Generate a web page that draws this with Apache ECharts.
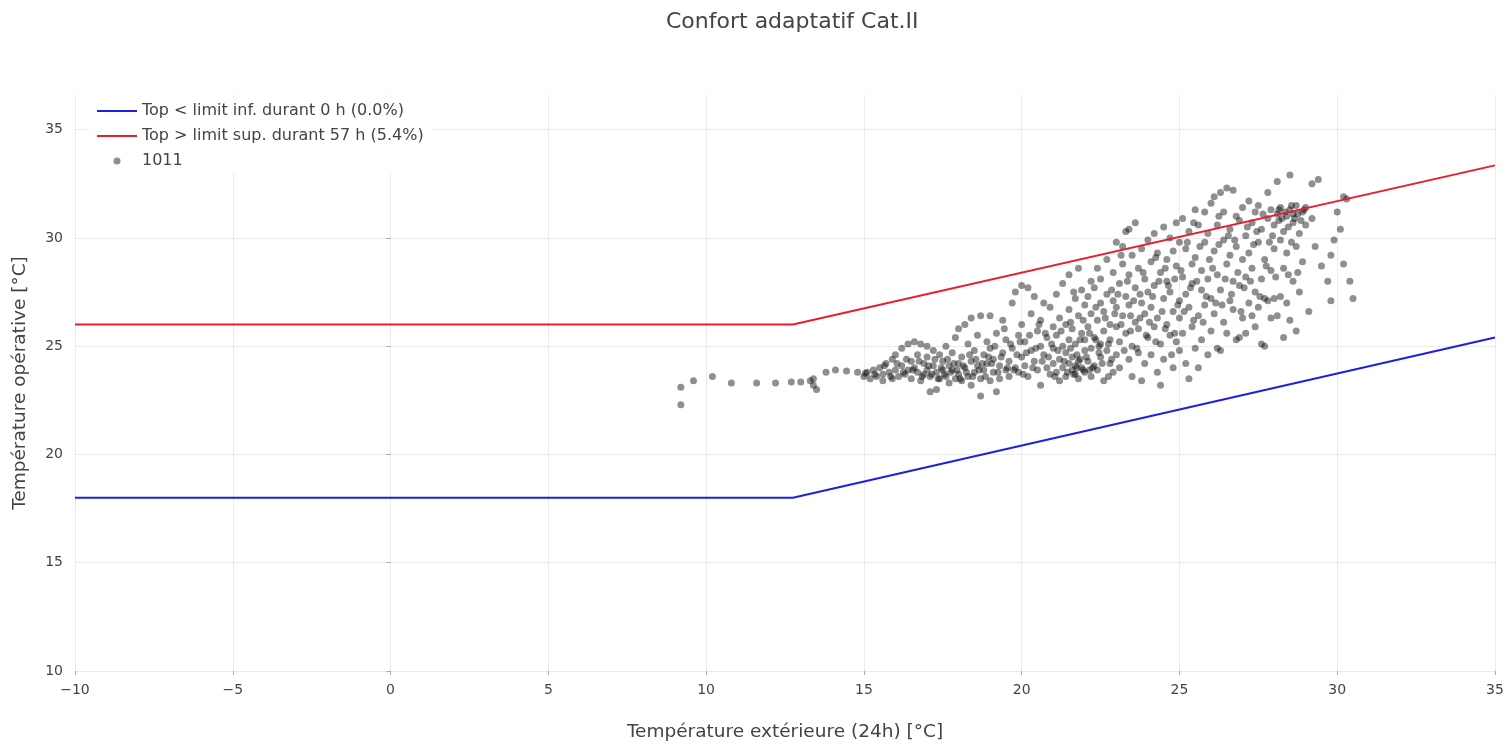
<!DOCTYPE html>
<html>
<head>
<meta charset="utf-8">
<script src="https://cdn.jsdelivr.net/npm/echarts@6/dist/echarts.min.js"></script>
<style>
  html, body { margin: 0; padding: 0; background: #fff; }
  #chart { width: 1508px; height: 747px; }
</style>
</head>
<body>
<div id="chart"></div>
<script>
// limites de confort (Cat.II)
const limInf = [[-10, 18], [12.75, 18], [35, 25.4]];
const limSup = [[-10, 26], [12.75, 26], [35, 33.35]];

const xTicks = [-10, -5, 0, 5, 10, 15, 20, 25, 30, 35];
const yTicks = [10, 15, 20, 25, 30, 35];

// points mesurés : [T ext (24h), T opérative]
const pts1011 = [
  [9.2,23.1],[9.2,22.3],[9.6,23.4],[10.2,23.6],[10.8,23.3],[11.6,23.3],[12.2,23.3],[12.7,23.35],[13.0,23.35],
  [13.3,23.4],[13.4,23.2],[13.5,23.0],[13.4,23.5],[13.8,23.8],[14.1,23.9],[14.45,23.85],[14.8,23.8],[15.05,23.75],
  [15.0,23.6],[15.1,23.8],[15.2,23.5],[15.3,23.9],[15.4,23.6],[15.5,24.0],[15.6,23.7],[15.6,23.4],[15.7,24.2],[15.8,23.8],
  [15.9,23.5],[15.9,24.4],[16.0,23.9],[16.0,24.6],[16.1,23.6],[16.2,24.9],[16.2,24.1],[16.3,23.7],[16.4,25.1],[16.4,23.9],
  [16.5,24.3],[16.5,23.5],[16.6,25.2],[16.6,24.0],[16.7,23.8],[16.7,24.6],[16.8,25.1],[16.8,23.4],[16.9,24.2],[16.9,23.7],
  [17.0,25.0],[17.0,24.5],[17.0,23.9],[17.1,22.9],[17.1,23.6],[17.2,24.8],[17.2,24.1],[17.3,23.0],[17.3,23.8],[17.4,24.6],
  [17.4,23.5],[17.5,24.3],[17.5,23.9],[17.6,25.0],[17.6,23.6],[17.7,24.1],[17.7,23.3],[17.8,24.7],[17.8,23.9],[17.9,25.4],
  [17.9,23.5],[18.0,24.2],[18.0,25.8],[18.0,23.7],
  [18.1,24.5],[18.1,23.4],[18.2,26.0],[18.2,24.0],[18.3,23.6],[18.3,25.1],[18.4,26.3],[18.4,24.3],[18.4,23.2],[18.5,24.8],
  [18.5,23.8],[18.6,25.5],[18.6,24.1],[18.7,22.7],[18.7,23.5],[18.7,26.4],[18.8,24.6],[18.8,23.9],[18.9,25.2],[18.9,24.2],
  [19.0,23.4],[19.0,26.4],[19.0,24.9],[19.1,23.8],[19.1,24.4],[19.2,22.9],[19.2,25.6],[19.3,24.1],[19.3,23.5],[19.4,24.7],
  [19.4,26.2],[19.5,23.9],[19.5,25.3],[19.6,24.3],[19.6,23.6],[19.7,27.0],[19.7,24.9],[19.8,24.0],[19.8,27.5],[19.9,25.5],
  [19.9,23.8],[20.0,27.8],[20.0,24.5],[20.0,26.0],
  [20.1,24.1],[20.1,25.2],[20.2,27.7],[20.2,23.6],[20.3,26.5],[20.3,24.8],[20.4,27.3],[20.4,24.3],[20.5,25.7],[20.5,23.9],
  [20.6,23.2],[20.6,25.0],[20.6,26.2],[20.7,24.6],[20.7,27.0],[20.8,24.0],[20.8,25.4],[20.9,26.8],[20.9,23.7],[21.0,24.9],
  [21.0,25.9],[21.0,24.2],
  [21.1,23.8],[21.1,25.5],[21.1,27.4],[21.2,24.4],[21.2,26.3],[21.2,23.4],[21.3,25.0],[21.3,27.9],[21.3,24.0],[21.4,26.0],
  [21.4,24.7],[21.4,23.6],[21.5,25.3],[21.5,28.3],[21.5,24.2],[21.5,26.7],[21.6,23.9],[21.6,25.8],[21.6,24.5],[21.7,27.2],
  [21.7,23.7],[21.7,24.1],[21.7,25.1],[21.8,26.4],[21.8,24.3],[21.8,23.5],[21.8,28.6],[21.9,25.6],[21.9,24.0],[21.9,27.6],
  [22.0,24.8],[22.0,26.9],[22.0,23.8],[22.0,25.3],
  [22.1,24.3],[22.1,27.3],[22.1,25.9],[22.2,23.6],[22.2,26.5],[22.2,28.0],[22.2,24.9],[22.3,25.4],[22.3,27.7],[22.3,24.1],
  [22.4,26.2],[22.4,28.6],[22.4,23.9],[22.5,25.1],[22.5,27.0],[22.5,24.5],[22.5,28.1],[22.6,26.6],[22.6,23.4],[22.6,25.7],
  [22.7,29.0],[22.7,24.8],[22.7,27.4],[22.8,26.0],[22.8,24.2],[22.8,25.3],[22.9,28.4],[22.9,27.1],[22.9,23.8],[23.0,25.9],
  [23.0,29.8],[23.0,24.6],[23.0,26.8],
  [23.1,27.9],[23.1,25.2],[23.1,24.0],[23.2,28.8],[23.2,26.4],[23.2,29.6],[23.3,30.3],[23.3,25.6],[23.3,27.3],[23.4,24.4],
  [23.4,28.3],[23.4,26.9],[23.4,30.4],[23.5,25.0],[23.5,29.2],[23.5,23.6],[23.6,27.7],[23.6,30.7],[23.6,26.1],[23.7,28.6],
  [23.7,24.7],[23.7,25.8],[23.8,29.5],[23.8,27.0],[23.8,23.4],[23.9,26.5],[23.9,28.1],[23.9,24.2],[24.0,29.9],[24.0,25.4],
  [24.0,27.5],
  [24.1,28.9],[24.1,24.6],[24.1,26.8],[24.2,30.2],[24.2,25.9],[24.2,27.8],[24.3,23.8],[24.3,29.3],[24.3,26.3],[24.4,28.4],
  [24.4,25.1],[24.4,23.2],[24.5,30.5],[24.5,27.2],[24.5,24.4],[24.6,29.0],[24.6,26.0],[24.6,28.0],[24.7,25.5],[24.7,30.0],
  [24.7,27.5],[24.8,24.0],[24.8,29.4],[24.8,26.6],[24.9,28.7],[24.9,25.2],[24.9,30.7],[25.0,27.1],[25.0,24.8],[25.0,29.8],
  [25.0,26.3],
  [25.1,30.9],[25.1,28.2],[25.1,25.6],[25.2,27.4],[25.2,24.2],[25.2,29.5],[25.3,26.8],[25.3,23.5],[25.3,30.3],[25.4,28.8],
  [25.4,25.9],[25.4,27.9],[25.5,31.3],[25.5,24.9],[25.5,29.1],[25.6,26.4],[25.6,24.0],[25.6,30.6],[25.7,27.6],[25.7,28.5],
  [25.7,25.3],[25.8,31.2],[25.8,29.8],[25.8,26.9],[25.9,24.6],[25.9,28.1],[25.9,30.2],[26.0,31.6],[26.0,27.2],[26.0,25.7],
  [26.1,31.9],[26.1,29.4],[26.1,26.5],[26.2,28.3],[26.2,24.9],[26.2,30.6],[26.3,32.1],[26.3,27.6],[26.3,24.8],[26.4,29.9],
  [26.4,26.1],[26.4,31.2],[26.5,32.3],[26.5,28.8],[26.5,25.6],[26.6,27.1],[26.6,30.4],[26.6,29.2],[26.7,32.2],[26.7,26.7],
  [26.7,28.0],[26.8,31.0],[26.8,25.3],[26.8,29.6],[26.9,25.4],[26.9,27.8],[26.9,30.8],[27.0,26.3],[27.0,29.0],[27.0,31.4],
  [27.1,28.2],[27.1,25.6],[27.1,30.1],[27.2,31.7],[27.2,27.0],[27.2,29.3],[27.3,26.4],[27.3,30.7],[27.3,28.6],[27.4,31.2],
  [27.4,27.5],[27.4,25.9],[27.5,29.8],[27.5,26.8],[27.5,31.5],[27.6,28.1],[27.6,25.1],[27.6,30.4],[27.7,27.2],[27.7,29.0],
  [27.7,25.0],[27.8,32.1],[27.8,30.9],[27.8,27.1],[27.9,26.3],[27.9,28.5],[27.9,31.3],[28.0,29.5],[28.0,27.2],[28.0,30.6],
  [28.1,32.6],[28.1,31.1],[28.1,26.4],[28.2,29.9],[28.2,27.3],[28.2,31.4],[28.3,30.3],[28.3,28.6],[28.3,25.4],[28.4,31.0],
  [28.4,27.0],[28.4,29.3],[28.5,32.9],[28.5,31.3],[28.5,26.2],[28.6,30.7],[28.6,28.0],[28.6,31.1],[28.7,29.6],[28.7,25.7],
  [28.7,31.5],[28.8,30.2],[28.8,27.5],[28.9,31.2],[28.9,28.9],[29.0,30.6],[29.0,31.4],
  [29.1,26.6],[29.2,32.5],[29.2,30.9],[29.3,29.6],[29.4,32.7],[29.5,28.7],[29.7,28.0],[29.8,29.2],[29.8,27.1],[29.9,29.9],
  [30.0,31.2],[30.1,30.4],[30.2,31.9],[30.2,28.8],[30.4,28.0],[30.5,27.2],[30.3,31.8],
  // zones denses
  [15.35,23.7],[15.65,24.1],[15.85,23.6],[16.05,24.2],[16.25,23.8],[16.35,24.4],[16.55,23.9],[16.75,24.3],[16.85,23.6],
  [17.05,24.1],[17.15,23.7],[17.25,24.4],[17.35,23.5],[17.45,24.0],[17.55,23.7],[17.65,24.4],[17.75,23.8],[17.85,24.2],
  [17.95,23.9],[18.05,23.5],[18.15,24.1],[18.25,23.8],[18.35,24.6],[18.45,23.6],[18.55,24.4],[18.65,23.9],[18.75,24.2],
  [18.85,23.6],[18.95,24.5],
  [19.05,24.2],[19.15,25.0],[19.25,23.8],[19.35,24.5],[19.45,25.8],[19.55,24.0],[19.65,25.1],[19.75,23.9],[19.85,24.6],
  [19.95,25.2],[20.05,23.7],[20.15,24.7],[20.25,25.5],[20.35,24.0],[20.45,24.9],[20.55,26.0],[20.65,24.3],[20.75,25.6],
  [20.85,24.5],[20.95,25.1],
  [21.05,23.6],[21.15,24.8],[21.25,25.7],[21.35,24.3],[21.45,23.8],[21.55,24.9],[21.65,23.7],[21.75,24.6],[21.85,25.3],
  [21.95,23.9],[21.55,26.1],[21.65,27.5],[21.75,24.0],[21.85,24.4],[21.95,26.2],[22.05,24.5],[22.15,25.6],[22.25,24.0],
  [22.35,26.8],[22.45,25.0],[22.55,24.2],[22.65,26.3],[22.75,25.1],[22.85,24.4],[22.95,26.5],[22.15,23.9],[22.45,24.7],
  [22.75,23.6],[22.35,25.3],[22.85,27.6],
  [23.05,27.4],[23.15,26.0],[23.25,24.8],[23.35,28.0],[23.45,25.7],[23.55,27.1],[23.65,24.9],[23.75,26.3],[23.85,28.4],
  [23.95,25.5],[23.15,29.2],[23.45,26.4],[23.75,27.4],[24.05,26.1],[24.15,27.3],[24.25,25.2],[24.35,28.0],[24.45,26.6],
  [24.55,25.8],[24.65,27.8],[24.75,24.6],[24.85,28.1],[24.95,26.9],[24.25,29.1],[24.55,28.6],[24.85,25.6],
  [25.05,28.5],[25.15,26.6],[25.25,29.8],[25.35,27.7],[25.45,26.2],[25.55,28.0],[25.65,29.6],[25.75,26.1],[25.85,27.3],
  [25.95,29.0],[26.05,28.6],[26.15,27.0],[26.25,29.7],[26.35,26.9],[26.45,28.1],[26.55,30.1],[26.65,27.4],[26.75,29.9],
  [26.85,28.4],[26.95,26.6],[25.45,30.7],[26.25,31.0],
  [27.05,27.7],[27.15,30.5],[27.25,28.0],[27.35,29.7],[27.45,30.3],[27.55,27.3],[27.65,31.1],[27.75,28.7],[27.85,29.8],
  [27.95,30.1],[28.05,28.2],[28.15,30.8],[28.25,30.9],[28.35,31.2],[28.45,30.5],[28.55,29.8],[28.65,30.9],[28.75,31.1],
  [28.85,30.8],[28.95,31.3],[28.45,28.3],[28.75,28.4],[28.15,31.3],[28.55,31.5]
];

const txt = '#444';
const fontFam = '"DejaVu Sans", Verdana, sans-serif';
const minus = v => String(v).replace('-', '\u2212');

const chart = echarts.init(document.getElementById('chart'));
chart.setOption({
  animation: false,
  textStyle: { fontFamily: fontFam, color: txt },
  title: {
    text: 'Confort adaptatif Cat.II',
    left: 661,
    top: 6,
    textStyle: { fontFamily: fontFam, fontSize: 22, fontWeight: 'normal', color: txt }
  },
  legend: {
    orient: 'vertical',
    left: 89,
    top: 98,
    padding: [5, 8],
    itemGap: 9,
    itemWidth: 40,
    itemHeight: 7,
    backgroundColor: '#fff',
    textStyle: { fontFamily: fontFam, fontSize: 16, color: txt },
    data: [
      { name: 'Top < limit inf. durant 0 h (0.0%)', icon: 'path://M0,0 L40,0 L40,2 L0,2 Z' },
      { name: 'Top > limit sup. durant 57 h (5.4%)', icon: 'path://M0,0 L40,0 L40,2 L0,2 Z' },
      { name: '1011', icon: 'circle' }
    ]
  },
  grid: { left: 75, right: 13, top: 95, bottom: 74 },
  xAxis: {
    type: 'value',
    min: xTicks[0],
    max: xTicks[xTicks.length - 1],
    interval: 5,
    name: 'Température extérieure (24h) [°C]',
    nameLocation: 'middle',
    nameGap: 52,
    nameTextStyle: { fontFamily: fontFam, fontSize: 18.5, color: txt },
    axisLine: { show: false },
    axisTick: { show: true, length: 4, lineStyle: { color: '#aaa' } },
    axisLabel: { fontSize: 14, color: txt, margin: 12, formatter: minus },
    splitLine: { show: true, lineStyle: { color: '#ebebeb', width: 1 } }
  },
  yAxis: {
    type: 'value',
    min: yTicks[0],
    max: 36.6,
    interval: 5,
    name: 'Température opérative [°C]',
    nameLocation: 'middle',
    nameGap: 45,
    nameTextStyle: { fontFamily: fontFam, fontSize: 18.5, color: txt },
    axisLine: { show: false },
    axisTick: { show: true, length: 4, lineStyle: { color: '#aaa' } },
    axisLabel: {
      fontSize: 14, color: txt, margin: 12, showMaxLabel: false,
      formatter: v => (yTicks.indexOf(v) >= 0 ? minus(v) : '')
    },
    splitLine: { show: true, showMaxLine: false, lineStyle: { color: '#ebebeb', width: 1 } }
  },
  series: [
    {
      name: 'Top < limit inf. durant 0 h (0.0%)',
      type: 'line',
      data: limInf,
      symbol: 'none',
      lineStyle: { color: '#1f1fe0', width: 2 },
      itemStyle: { color: '#1f1fe0' },
      z: 3
    },
    {
      name: 'Top > limit sup. durant 57 h (5.4%)',
      type: 'line',
      data: limSup,
      symbol: 'none',
      lineStyle: { color: '#e81e2a', width: 2 },
      itemStyle: { color: '#e81e2a' },
      z: 3
    },
    {
      name: '1011',
      type: 'scatter',
      data: pts1011,
      symbolSize: 7,
      itemStyle: { color: 'rgba(0,0,0,0.55)' },
      z: 2
    }
  ]
});
</script>
</body>
</html>
